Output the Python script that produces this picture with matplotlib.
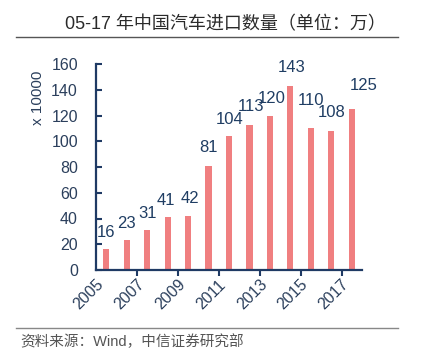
import matplotlib
matplotlib.use("Agg")
import matplotlib.pyplot as plt
from matplotlib.lines import Line2D

years = [2005, 2006, 2007, 2008, 2009, 2010, 2011, 2012, 2013, 2014, 2015, 2016, 2017]
imports = [16, 23, 31, 41, 42, 81, 104, 113, 120, 143, 110, 108, 125]
year_ticks = [2005, 2007, 2009, 2011, 2013, 2015, 2017]
y_ticks = [0, 20, 40, 60, 80, 100, 120, 140, 160]
title = "05-17 年中国汽车进口数量（单位：万）"
source = "资料来源：Wind，中信证券研究部"
unit_label = "x 10000"

# label offsets in pixels (dx, dy) from bar top
label_offsets = [(0, 17), (0, 17), (0, 17), (-2, 17), (2, 17), (0, 18), (1, 17), (2, 18),
                 (2, 17), (1, 18), (0, 28), (0, 18), (12, 24)]

plt.rcParams['font.family'] = ['Liberation Sans', 'Noto Sans CJK SC', 'DejaVu Sans']

W, H = 422, 354
fig = plt.figure(figsize=(W / 100, H / 100), dpi=100)
fig.patch.set_facecolor('white')

ax = fig.add_axes([96 / W, 1 - 270 / H, (362 - 96) / W, (270 - 64) / H])
axis_color = '#1F3A64'
text_color = '#2B3F5C'
label_color = '#1F3D63'

ax.bar(years, imports, width=0.3, color='#F07F80', zorder=2)
for x, v, (dx, dy) in zip(years, imports, label_offsets):
    ax.annotate(str(v), (x, v), xytext=(dx, dy), textcoords='offset pixels',
                ha='center', va='center', fontsize=12, color=label_color)

ax.set_xlim(2004.5, 2017.5)
ax.set_ylim(0, 160)
for s in ['top', 'right']:
    ax.spines[s].set_visible(False)
for s in ['left', 'bottom']:
    ax.spines[s].set_color(axis_color)
    ax.spines[s].set_linewidth(1.6)

ax.set_yticks(y_ticks)
ax.tick_params(axis='y', direction='in', length=4, width=1.5, color=axis_color,
               labelsize=11.5, labelcolor=text_color, pad=13)
ax.set_xticks(year_ticks)
ax.set_xticklabels([str(y) for y in year_ticks], rotation=45, ha='right')
ax.tick_params(axis='x', which='major', length=0, labelsize=11.5, labelcolor=text_color, pad=5)
ax.set_xticks([y + 1.5 for y in year_ticks[:-1]], minor=True)
ax.tick_params(axis='x', which='minor', direction='out', length=4, width=1.5, color=axis_color)

fig.text(38 / W, 1 - 98 / H, unit_label, rotation=90, ha='center', va='center',
         fontsize=11, color=text_color)

fig.text(225 / W, 1 - 25 / H, title, ha='center', va='center', fontsize=13, color='#2A2A2A')
fig.add_artist(Line2D([16 / W, 398 / W], [1 - 37 / H, 1 - 37 / H], color='#555555', lw=1.0))
fig.add_artist(Line2D([16 / W, 398 / W], [1 - 328 / H, 1 - 328 / H], color='#888888', lw=1.0))
fig.text(20 / W, 1 - 342 / H, source, ha='left', va='center', fontsize=10.5, color='#555555')

fig.savefig('out.png', dpi=100, facecolor='white')
